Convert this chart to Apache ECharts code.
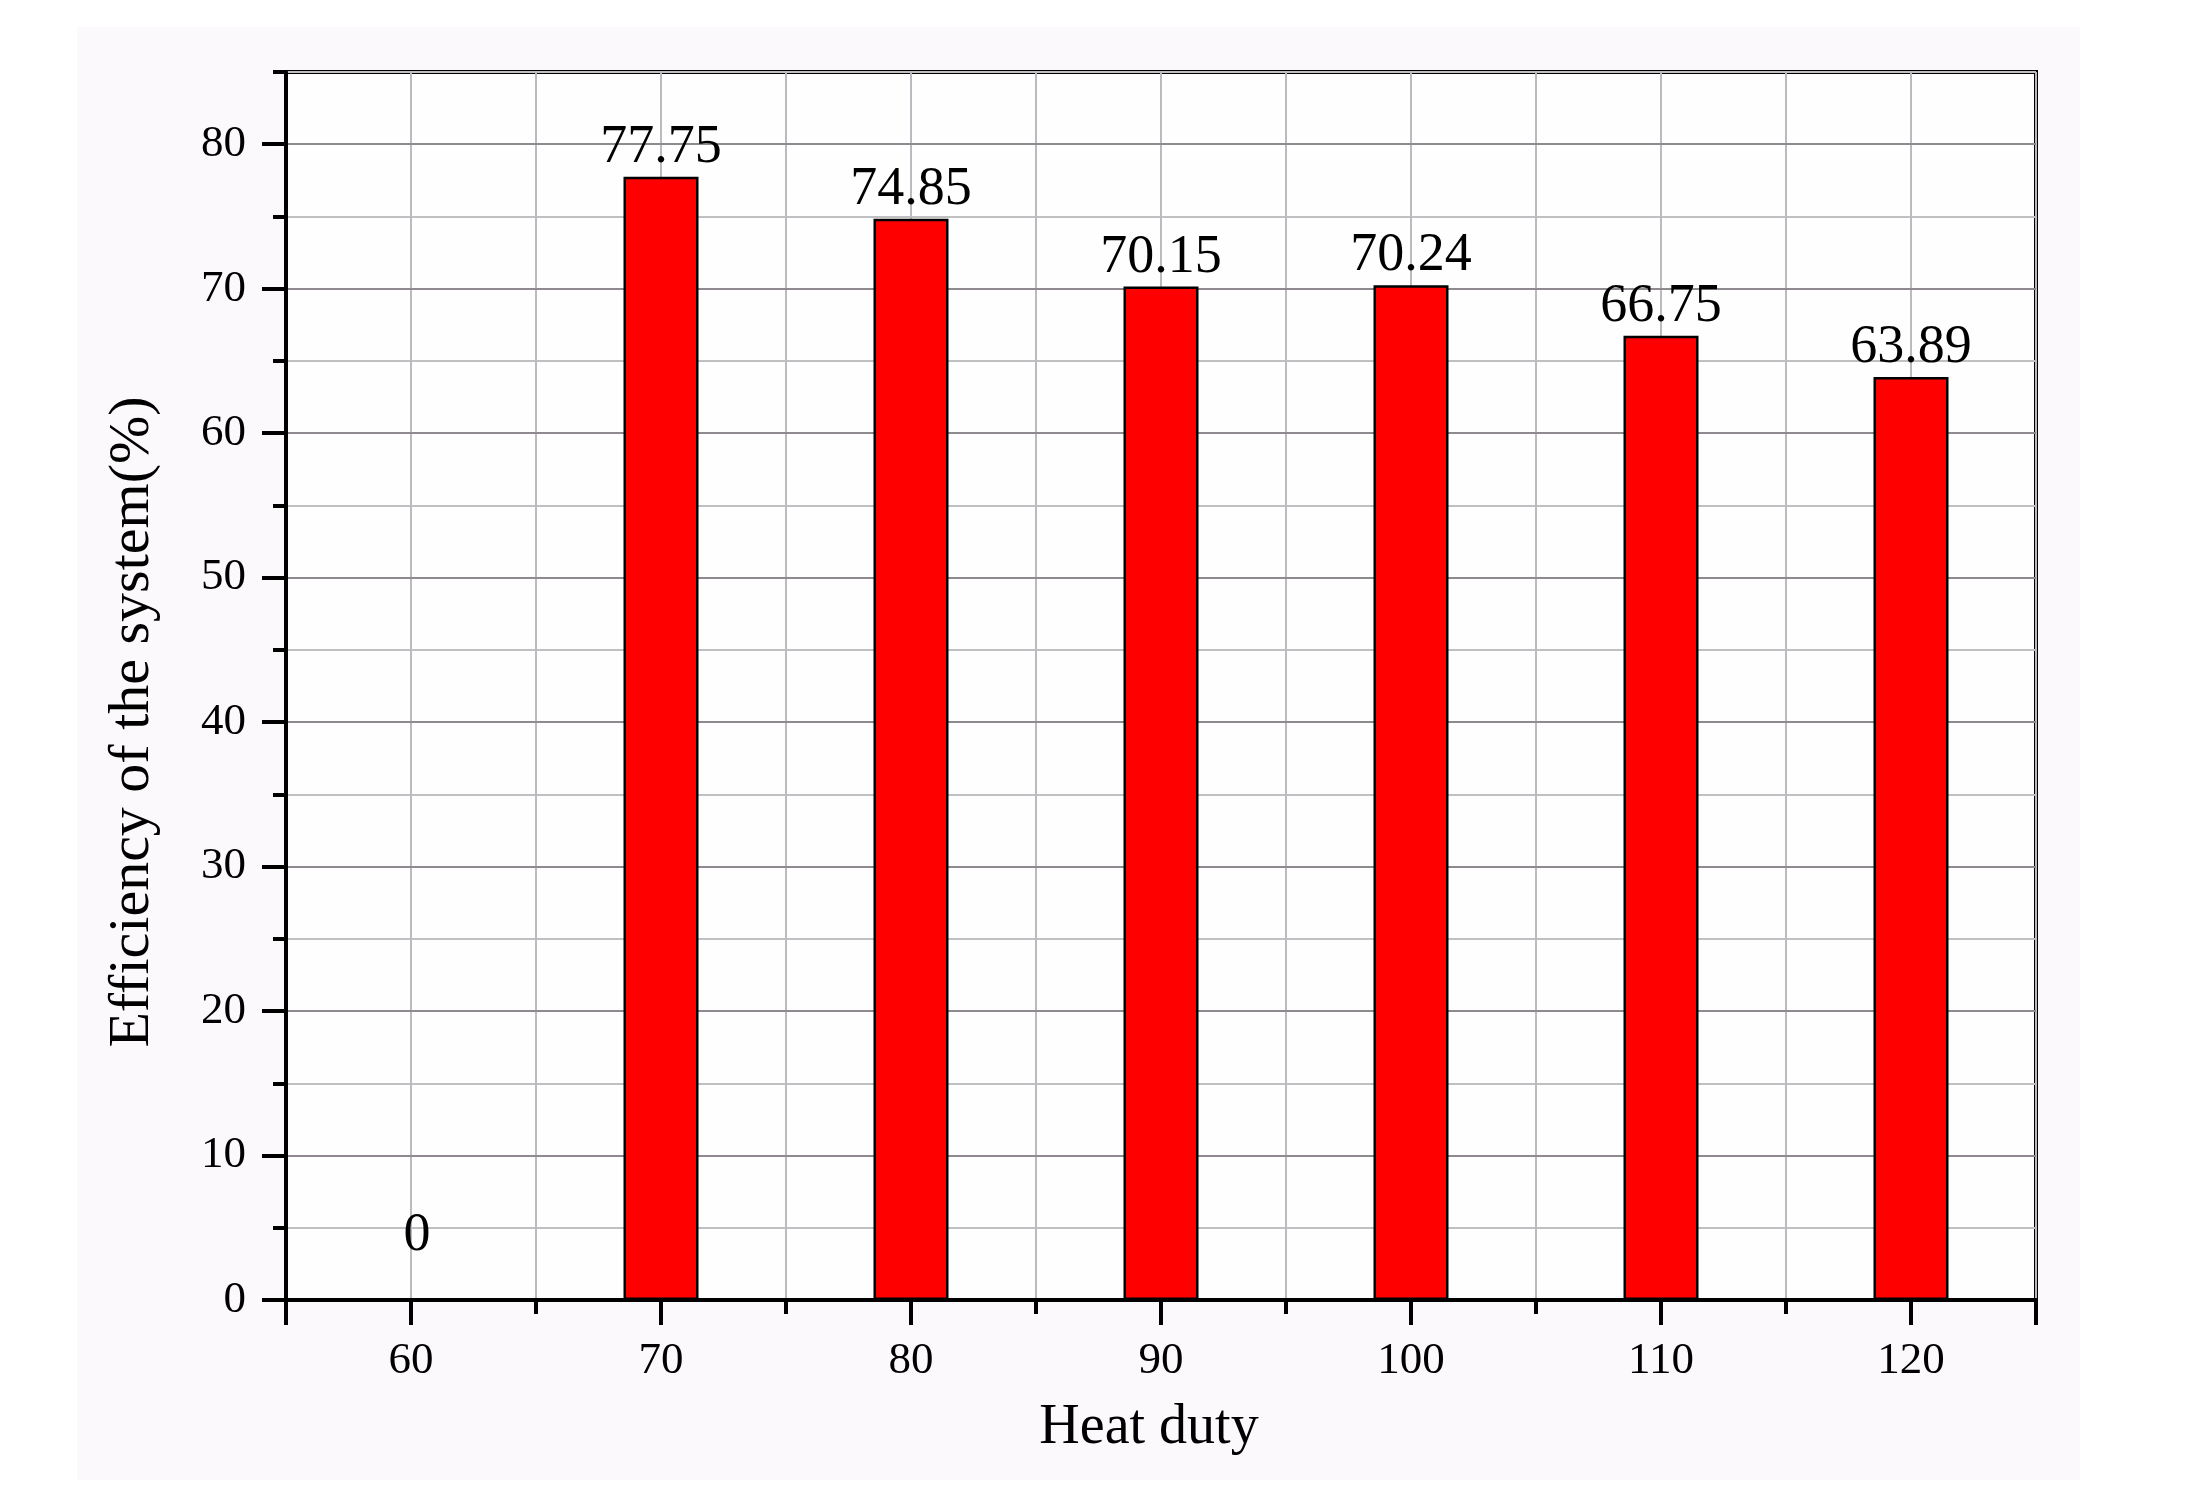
<!DOCTYPE html>
<html>
<head>
<meta charset="utf-8">
<script src="https://cdn.jsdelivr.net/npm/echarts@6/dist/echarts.min.js"></script>
<style>html,body{margin:0;padding:0;background:#fff;}#c{width:2189px;height:1490px;}</style>
</head>
<body>
<div id="c"></div>
<script>
// Data
const heatDuty = [60, 70, 80, 90, 100, 110, 120];
const efficiency = [0, 77.75, 74.85, 70.15, 70.24, 66.75, 63.89];
const xLabelValues = [60, 70, 80, 90, 100, 110, 120];
const xLongTicks = [55, 60, 70, 80, 90, 100, 110, 120, 125];
const yLabelValues = [0, 10, 20, 30, 40, 50, 60, 70, 80];

const FONT = 'Liberation Serif';
const chart = echarts.init(document.getElementById('c'));

const barData = heatDuty.map((x, i) => {
  const item = { value: [x, efficiency[i]] };
  if (efficiency[i] === 0) item.label = { distance: 36, offset: [6, 0] };
  return item;
});

chart.setOption({
  animation: false,
  backgroundColor: '#ffffff',
  graphic: [{
    type: 'rect', z: -100, silent: true,
    shape: { x: 77, y: 27, width: 2003, height: 1453 },
    style: { fill: '#fbf9fb' }
  }],
  grid: {
    left: 286, right: 153, top: 72, bottom: 190,
    show: true, borderColor: '#000', borderWidth: 4, backgroundColor: '#fefefe'
  },
  xAxis: [
    {
      type: 'value', min: 55, max: 125, interval: 5, position: 'bottom', z: 3,
      name: 'Heat duty', nameLocation: 'middle', nameGap: 100,
      nameTextStyle: { fontFamily: FONT, fontSize: 56, color: '#000', padding: [0, 24, 0, 0] },
      axisLine: { show: true, onZero: false, lineStyle: { color: '#000', width: 4 } },
      axisTick: { show: true, customValues: xLongTicks, length: 25, lineStyle: { color: '#000', width: 4 } },
      axisLabel: { show: true, customValues: xLabelValues, margin: 39, fontFamily: FONT, fontSize: 45, color: '#000' },
      splitLine: { show: false }
    },
    {
      type: 'value', min: 55, max: 125, interval: 5, position: 'bottom', z: 1,
      axisLine: { show: false, onZero: false },
      axisTick: { show: true, length: 14, lineStyle: { color: '#000', width: 4 } },
      axisLabel: { show: false },
      splitLine: { show: true, lineStyle: { color: '#bcbac0', width: 2 } }
    }
  ],
  yAxis: [
    {
      type: 'value', min: 0, max: 85, interval: 10, position: 'left', z: 3,
      name: 'Efficiency of the system(%)', nameLocation: 'middle', nameGap: 124,
      nameTextStyle: { fontFamily: FONT, fontSize: 58, color: '#000', padding: [0, 72, 0, 0] },
      axisLine: { show: true, onZero: false, lineStyle: { color: '#000', width: 4 } },
      axisTick: { show: true, customValues: yLabelValues, length: 24, lineStyle: { color: '#000', width: 4 } },
      axisLabel: { show: true, customValues: yLabelValues, margin: 40, fontFamily: FONT, fontSize: 45, color: '#000' },
      splitLine: { show: true, lineStyle: { color: '#8f8a90', width: 2 } }
    },
    {
      type: 'value', min: 0, max: 85, interval: 5, position: 'left', z: 1,
      axisLine: { show: false, onZero: false },
      axisTick: { show: true, length: 13, lineStyle: { color: '#000', width: 4 } },
      axisLabel: { show: false },
      splitLine: { show: true, lineStyle: { color: '#c0bfc2', width: 2 } }
    }
  ],
  series: [{
    type: 'bar', xAxisIndex: 0, yAxisIndex: 0, z: 5,
    barWidth: 75,
    data: barData,
    itemStyle: { color: '#ff0000', borderColor: '#000', borderWidth: 2.5 },
    label: {
      show: true, position: 'top', distance: 2,
      fontFamily: FONT, fontSize: 54, color: '#000',
      formatter: p => String(p.value[1])
    }
  }]
});
</script>
</body>
</html>
